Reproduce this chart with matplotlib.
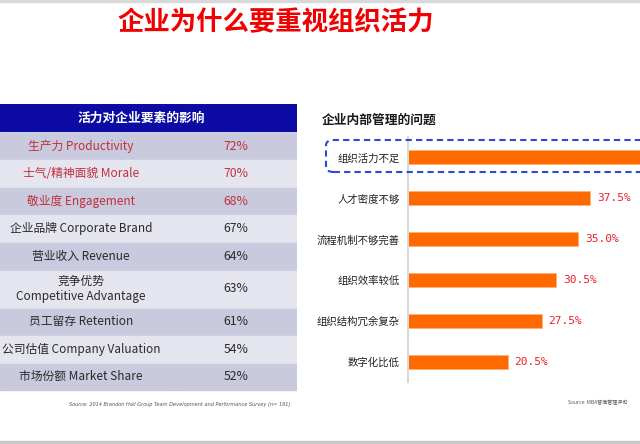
import matplotlib.pyplot as plt
from matplotlib.patches import Rectangle, FancyBboxPatch

plt.rcParams['font.family'] = ['Noto Sans CJK SC', 'DejaVu Sans']

# dati tabella
factors = ["生产力 Productivity", "士气/精神面貌 Morale", "敬业度 Engagement",
           "企业品牌 Corporate Brand", "营业收入 Revenue",
           "竞争优势\nCompetitive Advantage", "员工留存 Retention",
           "公司估值 Company Valuation", "市场份额 Market Share"]
impact = [72, 70, 68, 67, 64, 63, 61, 54, 52]
highlight = [True, True, True, False, False, False, False, False, False]

# dati grafico a barre
problems = ["组织活力不足", "人才密度不够", "流程机制不够完善", "组织效率较低",
            "组织结构冗余复杂", "数字化比低"]
shares = [52.5, 37.5, 35.0, 30.5, 27.5, 20.5]

W, H = 640, 444
fig = plt.figure(figsize=(W / 100, H / 100), dpi=100)


def fx(x):
    return x / W


def fy(y):
    return 1 - y / H


# bande grigie sopra e sotto
fig.patches.append(Rectangle((0, fy(2)), 1, 2 / H, transform=fig.transFigure,
                             color="#d8d8d8", zorder=0))
fig.patches.append(Rectangle((0, 0), 1, 3 / H, transform=fig.transFigure,
                             color="#c8c8c8", zorder=0))

fig.text(fx(276), fy(23), "企业为什么要重视组织活力", color="#f00000",
         fontsize=19, fontweight="bold", ha="center", va="center")

# tabella a sinistra (coordinate in pixel dentro l'asse)
ax_t = fig.add_axes([0, fy(392), fx(297), 288 / H])
ax_t.set_xlim(0, 297)
ax_t.set_ylim(288, 0)
ax_t.axis("off")

col_split = 175
heights = [28] + [27.5] * 5 + [38] + [27.5] * 3
ax_t.add_patch(Rectangle((0, 0), 297, heights[0] - 0.5, color="#0c0ca4"))
ax_t.text(141, heights[0] / 2, "活力对企业要素的影响", color="white",
          fontsize=9.2, fontweight="bold", ha="center", va="center")

top = heights[0]
for i, (name, val) in enumerate(zip(factors, impact)):
    h = heights[i + 1]
    bg = "#c9cade" if i % 2 == 0 else "#e4e5ef"
    ax_t.add_patch(Rectangle((0, top + 1), col_split - 0.5, h - 1, color=bg))
    ax_t.add_patch(Rectangle((col_split + 0.5, top + 1), 297 - col_split - 0.5,
                             h - 1, color=bg))
    c = "#c0303c" if highlight[i] else "#2a2a2a"
    ax_t.text(81, top + h / 2 + 0.5, name, color=c, fontsize=8.5,
              ha="center", va="center", linespacing=1.15)
    ax_t.text(236, top + h / 2 + 0.5, f"{val}%", color=c, fontsize=8.8,
              ha="center", va="center")
    top += h

fig.text(fx(290), fy(404),
         "Source: 2014 Brandon Hall Group Team Development and Performance Survey (n= 191)",
         fontsize=3.6, style="italic", color="#555555", ha="right", va="center",
         family="DejaVu Sans")

# grafico a barre a destra
fig.text(fx(322), fy(120), "企业内部管理的问题", fontsize=9.2,
         fontweight="bold", color="#1a1a1a", ha="left", va="center")

ax = fig.add_axes([fx(408), fy(382), (W - 408) / W, 245 / H])
y = list(range(len(problems)))
ax.barh(y, shares, height=0.34, color="#ff6a00", edgecolor="#ffb070",
        linewidth=0.6)
ax.set_ylim(len(problems) - 0.5, -0.5)
xmax = 47.7
ax.set_xlim(0, xmax)
ax.set_yticks(y)
ax.set_yticklabels(problems, fontsize=7.5, color="#222222")
ax.tick_params(axis="y", length=0, pad=6)
ax.set_xticks([])
for s in ["top", "right", "bottom"]:
    ax.spines[s].set_visible(False)
ax.spines["left"].set_color("#d8d8d8")
ax.spines["left"].set_linewidth(1.5)
for yi, v in zip(y, shares):
    # l'etichetta della prima barra cade fuori dal quadro, come nell'originale
    if v + 8 > xmax:
        continue
    ax.text(v + 1.4, yi, f"{v:.1f}%", color="#e8202a", fontsize=8,
            family="DejaVu Sans Mono", ha="left", va="center")

# riquadro tratteggiato sulla prima voce
box = FancyBboxPatch((fx(326), fy(172)), fx(330), 32 / H,
                     boxstyle="round,pad=0,rounding_size=0.012",
                     transform=fig.transFigure, fill=False,
                     edgecolor="#2b4bd4", linestyle=(0, (3, 2)),
                     linewidth=1.5, clip_on=False)
fig.patches.append(box)

fig.text(fx(627), fy(403), "Source: MBA智库管理评论", fontsize=3.6,
         style="italic", color="#555555", ha="right", va="center")

plt.savefig("out.png", dpi=100)
